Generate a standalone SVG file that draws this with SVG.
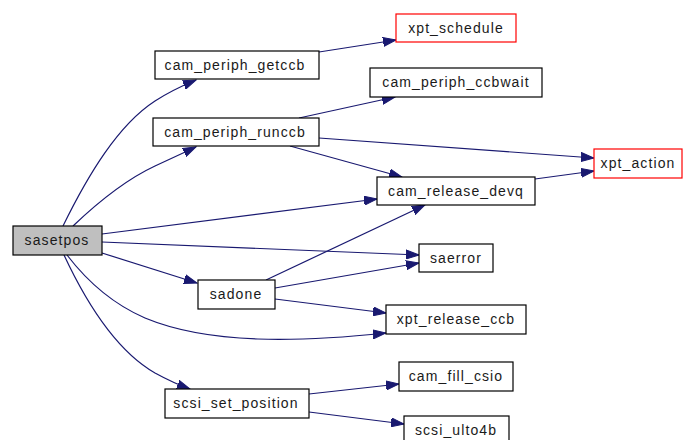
<svg xmlns="http://www.w3.org/2000/svg" width="683" height="440" viewBox="0 0 683 440">
  <style>
    .node rect { fill: #ffffff; stroke: #000000; stroke-width: 1.2; }
    .node.ext rect { stroke: #ff0000; }
    .node.root rect { fill: #bfbfbf; }
    .node text { font-family: "Liberation Sans", Arial, sans-serif; font-size: 14px; letter-spacing: 1.1px; fill: #1a1a1a; text-anchor: middle; }
    .edges path { fill: none; stroke: #191970; stroke-width: 1.2; marker-end: url(#arrow); }
  </style>
  <defs>
    <marker id="arrow" markerUnits="userSpaceOnUse" markerWidth="14" markerHeight="10" refX="13" refY="5" orient="auto">
      <path d="M0,0.5 L13,5 L0,9.5 Z" fill="#191970" stroke="#191970" stroke-width="1"/>
    </marker>
  </defs>

  <g class="edges">
    <path d="M63,226 C 88,175 118,125 155,101 Q 172,90 196,80"/>
    <path d="M73,226 C 95,205 125,180 155,166 L 196,147"/>
    <path d="M102,234 L 377,199"/>
    <path d="M102,242 L 419,255"/>
    <path d="M102,253 L 197,283"/>
    <path d="M67,255 C 90,285 115,305 145,318 C 210,345 300,342 386,333"/>
    <path d="M64,255 C 85,300 115,350 155,373 C 166,379 176,384 190,389"/>
    <path d="M319,52 L 396,40"/>
    <path d="M299,118 L 395,97"/>
    <path d="M319,138 L 594,158"/>
    <path d="M290,146 L 402,177"/>
    <path d="M535,179 L 594,171"/>
    <path d="M266,280 L 425,205"/>
    <path d="M275,288 L 419,263"/>
    <path d="M275,299 L 386,313"/>
    <path d="M309,394 L 399,384"/>
    <path d="M309,412 L 404,424"/>
  </g>

  <g id="sasetpos" class="node root">
    <rect x="13" y="226" width="89" height="29"/>
    <text x="57" y="245">sasetpos</text>
  </g>
  <g id="cam_periph_getccb" class="node">
    <rect x="155" y="51" width="164" height="28"/>
    <text x="235" y="70">cam_periph_getccb</text>
  </g>
  <g id="cam_periph_runccb" class="node">
    <rect x="153" y="118" width="166" height="28"/>
    <text x="235" y="137">cam_periph_runccb</text>
  </g>
  <g id="xpt_schedule" class="node ext">
    <rect x="396" y="14" width="120" height="28"/>
    <text x="456" y="33">xpt_schedule</text>
  </g>
  <g id="cam_periph_ccbwait" class="node">
    <rect x="370" y="68" width="172" height="29"/>
    <text x="456" y="87">cam_periph_ccbwait</text>
  </g>
  <g id="xpt_action" class="node ext">
    <rect x="594" y="149" width="88" height="29"/>
    <text x="638" y="168">xpt_action</text>
  </g>
  <g id="cam_release_devq" class="node">
    <rect x="377" y="177" width="158" height="28"/>
    <text x="456" y="196">cam_release_devq</text>
  </g>
  <g id="saerror" class="node">
    <rect x="419" y="244" width="74" height="28"/>
    <text x="456" y="263">saerror</text>
  </g>
  <g id="sadone" class="node">
    <rect x="198" y="280" width="77" height="29"/>
    <text x="236" y="299">sadone</text>
  </g>
  <g id="xpt_release_ccb" class="node">
    <rect x="386" y="305" width="140" height="29"/>
    <text x="456" y="324">xpt_release_ccb</text>
  </g>
  <g id="cam_fill_csio" class="node">
    <rect x="399" y="362" width="114" height="29"/>
    <text x="456" y="381">cam_fill_csio</text>
  </g>
  <g id="scsi_set_position" class="node">
    <rect x="165" y="389" width="144" height="29"/>
    <text x="236" y="408">scsi_set_position</text>
  </g>
  <g id="scsi_ulto4b" class="node">
    <rect x="404" y="416" width="105" height="29"/>
    <text x="456" y="435">scsi_ulto4b</text>
  </g>
</svg>
